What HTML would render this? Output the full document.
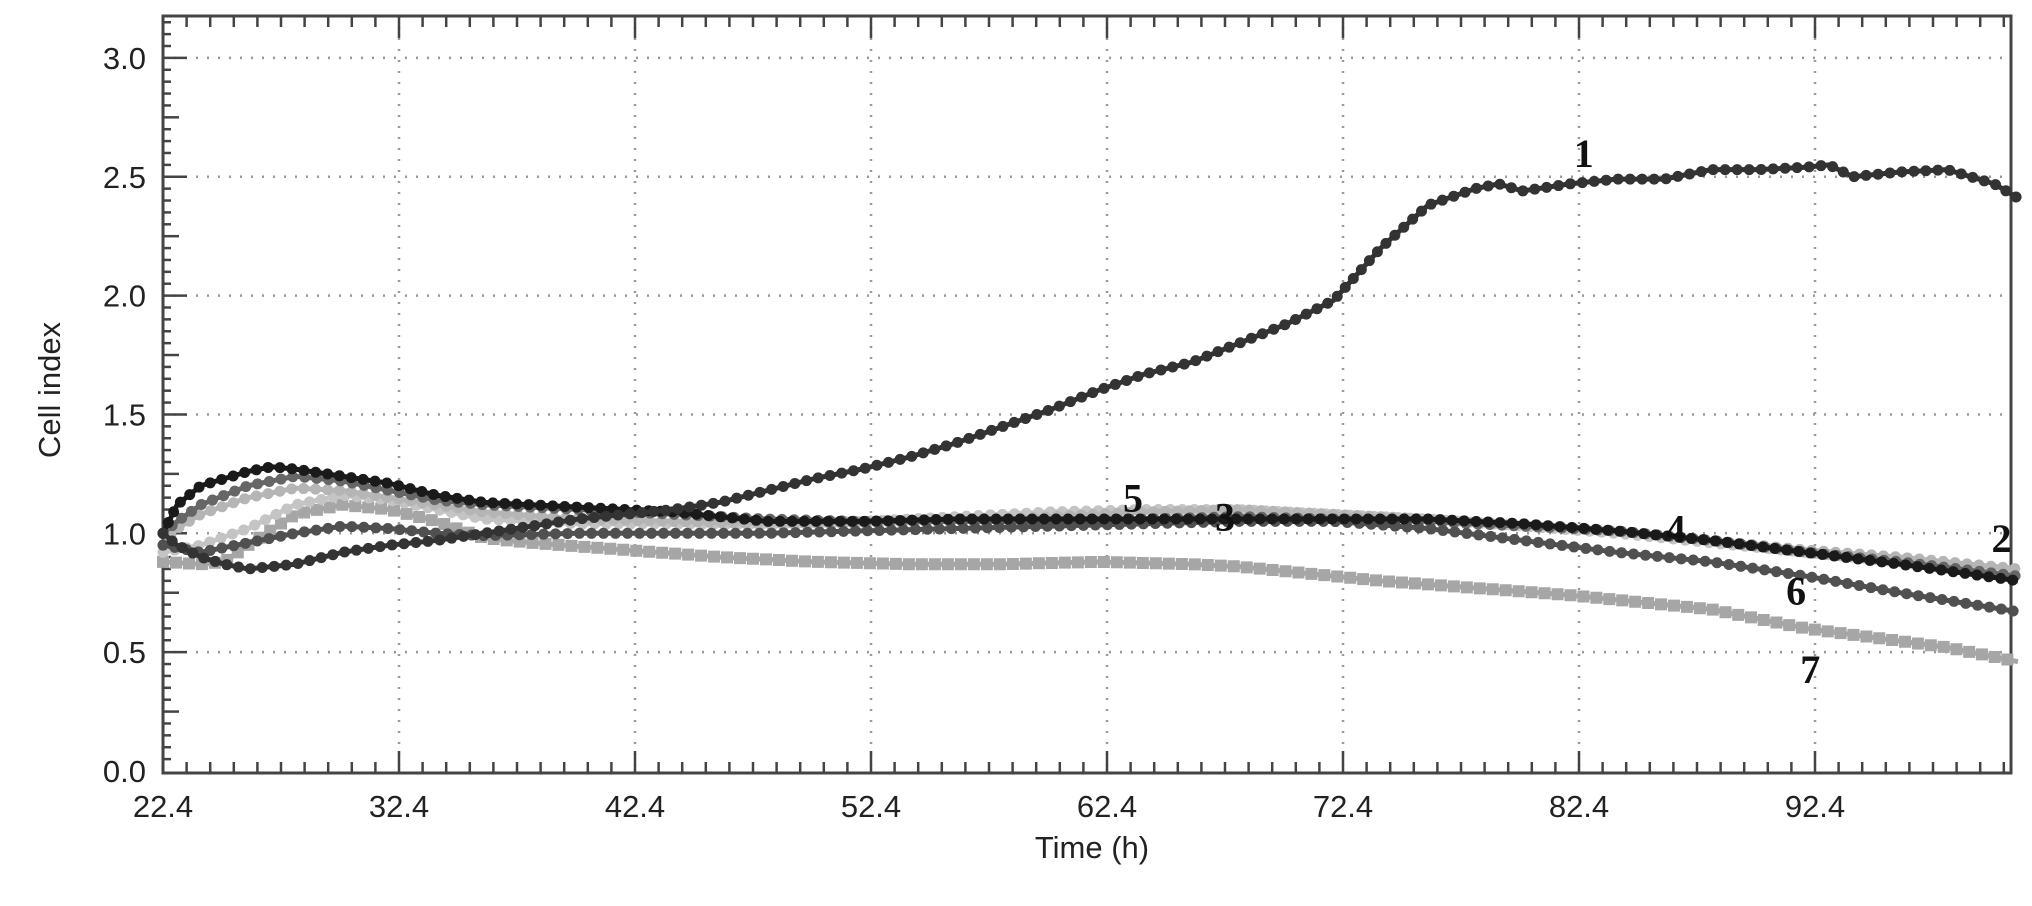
<!DOCTYPE html>
<html><head><meta charset="utf-8"><style>
html,body{margin:0;padding:0;background:#fff;}
svg{display:block;font-family:"Liberation Sans",Arial,sans-serif;}
</style></head><body>
<svg id="chart" width="2032" height="906">
<g id="grid"></g>
<g id="axes"></g>
<g id="series"></g>
<g id="labels"></g>
<text x="60" y="390" transform="rotate(-90 60 390)" text-anchor="middle" font-size="31" fill="#222">Cell index</text>
<text x="1092" y="858" text-anchor="middle" font-size="31" fill="#222">Time (h)</text>
</svg>
<script>
const xTicks=[22.4,32.4,42.4,52.4,62.4,72.4,82.4,92.4];
const xTickLabels=["22.4","32.4","42.4","52.4","62.4","72.4","82.4","92.4"];
const yTicks=[0,0.5,1,1.5,2,2.5,3];
const yTickLabels=["0.0","0.5","1.0","1.5","2.0","2.5","3.0"];
const seriesNames=["1","2","3","4","5","6","7"];
const s1T=[22.4,23,24,25,26,28,30,32,34,36,38,40,42,44,46,48,50,52,54,56,58,60,62,64,66,68,70,72,74,76,78,79,80,82,84,86,88,90,92,93,94,96,98,100,101];
const s1V=[1.0,0.95,0.9,0.87,0.85,0.87,0.92,0.95,0.97,1.0,1.03,1.06,1.08,1.1,1.13,1.18,1.23,1.27,1.32,1.38,1.45,1.52,1.6,1.67,1.72,1.8,1.88,1.98,2.2,2.38,2.45,2.47,2.44,2.47,2.49,2.49,2.53,2.53,2.54,2.55,2.5,2.52,2.53,2.47,2.41];
const s2T=[22.4,23,24,26,28,30,32,34,36,40,44,48,52,56,60,64,68,72,76,80,84,88,92,96,101];
const s2V=[0.95,1.02,1.08,1.15,1.19,1.18,1.15,1.12,1.09,1.06,1.05,1.04,1.04,1.05,1.07,1.09,1.1,1.08,1.06,1.04,1.01,0.97,0.93,0.9,0.85];
const s3T=[22.4,23,24,26,28,30,32,34,36,40,44,48,52,56,60,64,68,72,76,80,84,88,92,96,101];
const s3V=[1.0,1.05,1.12,1.2,1.24,1.22,1.18,1.14,1.12,1.1,1.08,1.06,1.05,1.05,1.05,1.06,1.07,1.06,1.05,1.03,1.01,0.97,0.92,0.88,0.82];
const s4T=[22.4,23,24,26,27,28,30,32,34,36,38,40,44,48,52,56,60,64,68,72,76,80,84,88,92,96,101];
const s4V=[1.0,1.12,1.2,1.26,1.28,1.27,1.24,1.21,1.16,1.13,1.12,1.11,1.09,1.05,1.05,1.06,1.06,1.06,1.06,1.06,1.06,1.04,1.01,0.97,0.92,0.87,0.8];
const s5T=[22.4,24,26,28,30,32,34,36,40,44,48,52,56,60,64,68,72,76,80,84,88,92,96,101];
const s5V=[0.92,0.95,1.02,1.12,1.16,1.14,1.1,1.06,1.04,1.04,1.04,1.05,1.07,1.09,1.1,1.1,1.08,1.06,1.03,1.0,0.96,0.92,0.88,0.84];
const s6T=[22.4,24,26,28,30,32,34,36,40,44,48,52,56,60,64,68,72,76,80,84,88,92,96,101];
const s6V=[0.95,0.92,0.96,1.0,1.03,1.02,1.0,0.99,1.0,1.0,1.0,1.01,1.02,1.03,1.04,1.05,1.05,1.02,0.97,0.92,0.88,0.82,0.75,0.67];
const s7T=[22.4,24,25,26,28,30,32,34,36,38,42,46,50,54,58,62,66,68,70,72,74,78,82,86,88,90,92,95,98,101];
const s7V=[0.88,0.87,0.88,0.95,1.08,1.12,1.1,1.05,0.98,0.96,0.93,0.9,0.88,0.87,0.87,0.88,0.87,0.86,0.84,0.82,0.8,0.77,0.74,0.7,0.68,0.64,0.6,0.56,0.52,0.46];
const seriesT=[s1T,s2T,s3T,s4T,s5T,s6T,s7T];
const seriesV=[s1V,s2V,s3V,s4V,s5V,s6V,s7V];
const labelT=[82.6,100.3,67.4,86.5,63.5,91.6,92.2];
const labelV=[2.6,0.98,1.07,1.02,1.15,0.76,0.43];

const L=163,R=2011,T=16,B=773;
const X0=22.4,XPX=23.6, Y0=771, YPX=237.7;
const xs=t=>L+(t-X0)*XPX;
const ys=v=>Y0-v*YPX;
const NS='http://www.w3.org/2000/svg';
function mk(tag,attrs,parent){const e=document.createElementNS(NS,tag);for(const k in attrs)e.setAttribute(k,attrs[k]);parent.appendChild(e);return e;}
const grid=document.getElementById('grid'),axes=document.getElementById('axes'),ser=document.getElementById('series'),lab=document.getElementById('labels');

yTicks.forEach((v,i)=>{
  if(v>0){const g=mk('line',{x1:L,x2:R,y1:ys(v),y2:ys(v),stroke:'#999','stroke-width':2.5,'stroke-dasharray':'2 9'},grid);
  
  }
  const t=mk('text',{x:146,y:ys(v)+11,'text-anchor':'end','font-size':31,fill:'#222'},axes);
  t.textContent=yTickLabels[i];
  
  
});
xTicks.forEach((v,i)=>{
  if(i>0){const g=mk('line',{x1:xs(v),x2:xs(v),y1:T,y2:B,stroke:'#999','stroke-width':2.5,'stroke-dasharray':'2 9'},grid);
  
  }
  const t=mk('text',{x:xs(v),y:817,'text-anchor':'middle','font-size':31,fill:'#222'},axes);
  t.textContent=xTickLabels[i];
  
  
});
for(let k=1;k<64;k++){const v=k*0.05;const y=ys(v);if(y<T+2)break;
  const len=(k%10===0)?24:(k%5===0)?16:8;
  const tk=mk('line',{x1:L,x2:L+len,y1:y,y2:y,stroke:'#444','stroke-width':2.5},axes);
  
  
}
for(let h=0;h<=79;h++){const x=xs(X0+h);if(x>R-2)break;
  const len=(h%10===0)?22:11;
  const a=mk('line',{x1:x,x2:x,y1:B,y2:B-len,stroke:'#444','stroke-width':2.5},axes);
  
  
  const b=mk('line',{x1:x,x2:x,y1:T,y2:T+len,stroke:'#444','stroke-width':2.5},axes);
  
  
}
const fr=mk('rect',{x:L,y:T,width:R-L,height:B-T,fill:'none',stroke:'#444','stroke-width':3},axes);



const colors=['#333','#b5b5b5','#666','#1a1a1a','#c4c4c4','#505050','#a6a6a6'];
const order=[6,4,1,2,5,3,0];
order.forEach(i=>{
  const pts=seriesT[i].map((t,j)=>xs(t)+','+ys(seriesV[i][j])).join(' ');
  const line=mk('polyline',{points:pts,fill:'none',stroke:colors[i],'stroke-width':5,'stroke-linejoin':'round'},ser);
  
  
  const dots=mk('polyline',{points:pts,fill:'none',stroke:colors[i],'stroke-width':i===6?12:11,'stroke-linecap':i===6?'square':'round','stroke-dasharray':i===6?'0 13':'0 12','stroke-linejoin':'round'},ser);
  
  
});
seriesNames.forEach((n,i)=>{
  const t=mk('text',{x:xs(labelT[i]),y:ys(labelV[i])+14,'text-anchor':'middle','font-size':40,'font-weight':'bold','font-family':'"Liberation Serif",serif',fill:'#111'},lab);
  t.textContent=n;
  
  
});
</script>
</body></html>
